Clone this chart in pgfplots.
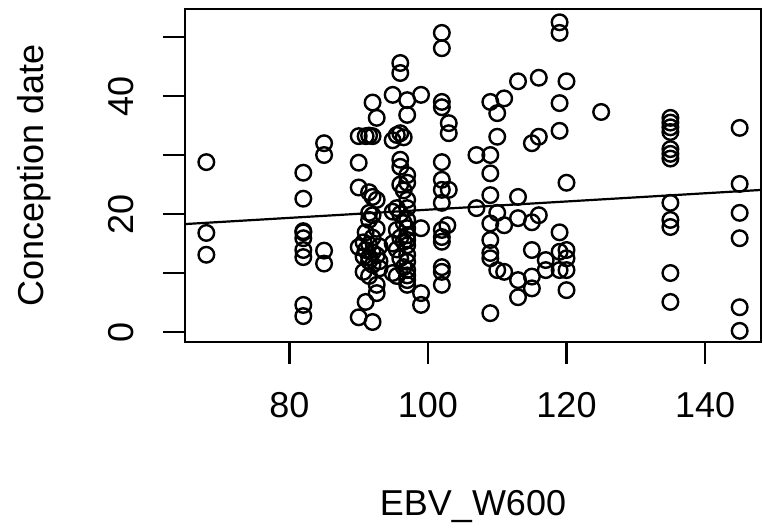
\documentclass[border=0pt]{standalone}
\usepackage{fontspec}
\setmainfont{Liberation Sans}
\usepackage{pgfplots}
\pgfplotsset{compat=1.18}
\begin{document}
\begin{tikzpicture}
\path[use as bounding box] (0,0) rectangle (381.5pt,265pt);
\begin{axis}[
  at={(92.5pt,94pt)}, anchor=south west,
  scale only axis, width=288pt, height=166.5pt,
  xmin=64.92, xmax=148.08, ymin=-1.69, ymax=54.75,
  axis line style={line width=1.2pt},
  xtick={80,100,120,140}, ytick={0,10,20,30,40,50},
  yticklabels={\rotatebox{90}{0},,\rotatebox{90}{20},,\rotatebox{90}{40},},
  tick align=outside, xtick pos=bottom, ytick pos=left,
  major tick length=11pt, tick style={line width=1.2pt, black},
  font=\fontsize{18}{21.6}\selectfont,
  /pgf/number format/assume math mode=true,
  xticklabel style={anchor=north, inner sep=0pt, yshift=-14pt},
  yticklabel style={anchor=east, inner sep=0pt, xshift=-14.5pt},
  xlabel={EBV\_W600}, ylabel={Conception date},
  every axis x label/.style={at={(axis description cs:0.5,-0.5195)}, anchor=base},
  every axis y label/.style={at={(axis description cs:-0.2448,0.5)}, rotate=90, anchor=base},
  clip=true,
]
\addplot[black, line width=1.1pt] coordinates {(64.92,18.3) (148.08,24.08)};
\addplot[only marks, mark=o, mark size=3.9pt, line width=1.2pt, black] coordinates {
(68,28.8) (68,16.8) (68,13.1)
(82,27.0) (82,22.6) (82,17.1) (82,16.9) (82,15.9) (82,13.9) (82,12.7) (82,4.6) (82,2.7)
(85,32.0) (85,30.0) (85,13.8) (85,11.6)
(90,33.2) (90,28.7) (90,24.5) (90,14.4) (90,2.5)
(90.7,12.8) (90.7,10.2) (90.7,15.2)
(91,33.2) (91,16.9) (91,13.9) (91,5.1)
(91.5,33.3) (91.5,23.7) (91.5,20.2) (91.5,19.0) (91.5,12.7) (91.5,9.5) (91.5,14.8) (91.5,12.0)
(92,38.9) (92,33.2) (92,22.9) (92,19.8) (92,16.0) (92,13.5) (92,11.4) (92,1.7)
(92.6,36.3) (92.6,22.4) (92.6,17.5) (92.6,13.0) (92.6,6.6) (92.6,8.0)
(93,14.5) (93,12.0) (93,10.8)
(94.9,40.2) (94.9,32.5) (94.9,20.4) (94.9,10.0) (94.9,15.0)
(95.5,33.4) (95.5,21.0) (95.5,17.3) (95.5,14.0) (95.5,9.5)
(96,45.6) (96,43.9) (96,33.7) (96,29.2) (96,28.0) (96,25.0) (96,20.0) (96,16.0) (96,12.5)
(96.5,33.0) (96.5,24.0) (96.5,18.5) (96.5,15.3) (96.5,11.0)
(97,39.3) (97,36.8) (97,26.6) (97,25.3) (97,22.4) (97,21.0) (97,19.0) (97,17.6) (97,16.4) (97,15.6) (97,14.7) (97,13.1) (97,11.9) (97,10.5) (97,9.6) (97,8.8) (97,8.0)
(99,40.2) (99,17.6) (99,6.6) (99,4.6)
(102,50.7) (102,48.1) (102,39.0) (102,38.1) (102,28.8) (102,25.8) (102,24.1) (102,21.9) (102,17.3) (102,16.1) (102,15.3) (102,11.0) (102,10.2) (102,8.0)
(102.8,18.1)
(103,35.4) (103,33.7) (103,24.1)
(107,30.0) (107,21.0)
(109,39.0) (109,30.0) (109,26.9) (109,23.2) (109,18.4) (109,15.6) (109,13.4) (109,12.5) (109,3.2)
(110,37.1) (110,33.1) (110,20.2) (110,10.5)
(111,39.6) (111,18.1) (111,10.2)
(113,42.5) (113,22.9) (113,19.3) (113,8.8) (113,5.9)
(115,32.0) (115,18.6) (115,13.9) (115,9.4) (115,7.4)
(116,43.1) (116,33.1) (116,19.8)
(117,12.2) (117,10.5)
(119,52.5) (119,50.7) (119,38.8) (119,34.1) (119,16.9) (119,13.6) (119,10.5)
(120,42.5) (120,25.3) (120,13.9) (120,12.5) (120,10.5) (120,7.1)
(125,37.3)
(135,36.3) (135,35.5) (135,34.7) (135,33.9) (135,31.0) (135,30.2) (135,29.4) (135,21.9) (135,19.0) (135,17.8) (135,10.0) (135,5.1)
(145,34.6) (145,25.1) (145,20.2) (145,15.9) (145,4.2) (145,0.2)
};
\end{axis}
\end{tikzpicture}
\end{document}
